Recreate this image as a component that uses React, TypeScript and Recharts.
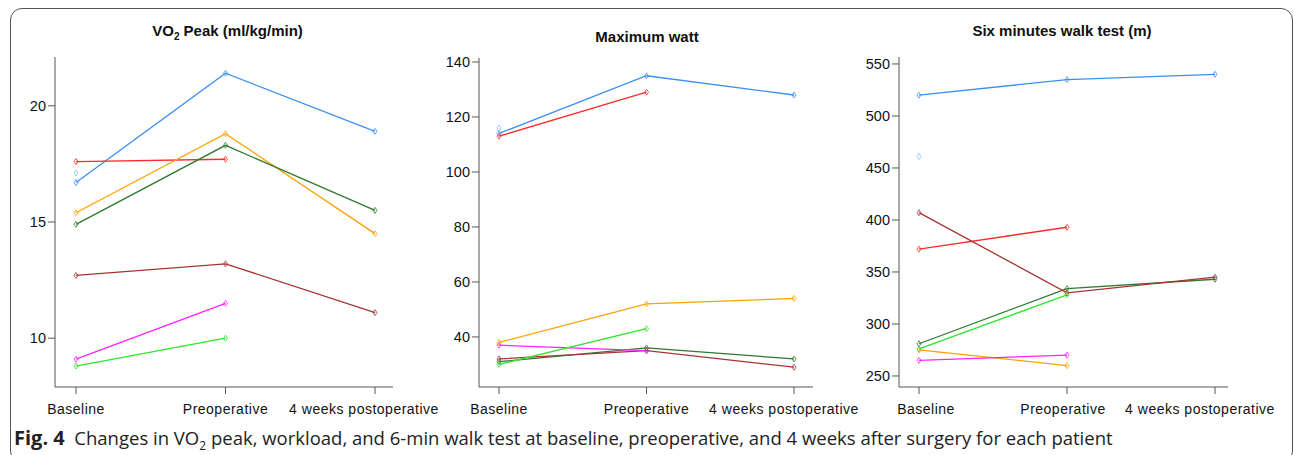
import React from 'react';
import { LineChart, Line, XAxis, YAxis } from 'recharts';

const timepoints = ['Baseline', 'Preoperative', '4 weeks postoperative'];
const patientColors = ['#3a8ff2', '#86bdf7', '#ff2b2b', '#ffa200', '#2f7a2f', '#a83232', '#ff22ff', '#2fe62f'];

// one row per patient: baseline, preoperative, 4 weeks postoperative (null = not measured)
const vo2Peak = [
  [16.7, 21.4, 18.9],
  [17.1, null, null],
  [17.6, 17.7, null],
  [15.4, 18.8, 14.5],
  [14.9, 18.3, 15.5],
  [12.7, 13.2, 11.1],
  [9.1, 11.5, null],
  [8.8, 10.0, null],
];
const vo2Ticks = [10, 15, 20];

const maxWatt = [
  [114, 135, 128],
  [116, null, null],
  [113, 129, null],
  [38, 52, 54],
  [31, 36, 32],
  [32, 35, 29],
  [37, 35, null],
  [30, 43, null],
];
const wattTicks = [40, 60, 80, 100, 120, 140];

const walkTest = [
  [520, 535, 540],
  [461, null, null],
  [372, 393, null],
  [275, 260, null],
  [281, 334, 343],
  [407, 330, 345],
  [265, 270, null],
  [276, 328, null],
];
const walkTicks = [250, 300, 350, 400, 450, 500, 550];

const FONT = '"Liberation Sans", Arial, sans-serif';
const AXIS = '#555';

const diamond = (color: string) => (props: any) => {
  const { cx, cy, value, index } = props;
  if (cx == null || cy == null || value == null) return <g key={`e-${index}`} />;
  return (
    <path
      key={`d-${index}`}
      d={`M${cx},${cy - 3}L${cx + 2},${cy}L${cx},${cy + 3}L${cx - 2},${cy}Z`}
      fill="none"
      stroke={color}
      strokeWidth={0.8}
    />
  );
};

function buildRows(values: (number | null)[][]) {
  return timepoints.map((name, t) => {
    const row: any = { name };
    values.forEach((v, i) => {
      row['p' + i] = v[t];
    });
    return row;
  });
}

interface PanelProps {
  values: (number | null)[][];
  ticks: number[];
  domain: [number, number];
  chartLeft: number;
  plotLeft: number;
  plotRight: number;
  plotTop: number;
  padding: { left: number; right: number };
  labelShift: number[];
}

function Panel({ values, ticks, domain, chartLeft, plotLeft, plotRight, plotTop, padding, labelShift }: PanelProps) {
  const height = 440;
  const plotBottom = 387;
  const rightRoom = 60;
  const width = plotRight - chartLeft + rightRoom;
  const rows = buildRows(values);

  const XTick = (props: any) => {
    const { x, y, payload, index } = props;
    return (
      <text
        x={x + labelShift[index]}
        y={y}
        dy="0.71em"
        textAnchor="middle"
        fontSize={14}
        letterSpacing={0.5}
        fontFamily={FONT}
        fill="#111"
      >
        {payload.value}
      </text>
    );
  };

  return (
    <div style={{ position: 'absolute', left: chartLeft, top: 0 }}>
      <LineChart width={width} height={height} data={rows} margin={{ top: plotTop, right: rightRoom, bottom: 0, left: 0 }}>
        <XAxis
          dataKey="name"
          padding={padding}
          height={height - plotBottom}
          interval={0}
          tickSize={7}
          tickMargin={10}
          axisLine={{ stroke: AXIS }}
          tickLine={{ stroke: AXIS }}
          tick={XTick}
        />
        <YAxis
          type="number"
          domain={domain}
          ticks={ticks}
          allowDataOverflow
          width={plotLeft - chartLeft}
          tickSize={7}
          tickMargin={2}
          axisLine={{ stroke: AXIS }}
          tickLine={{ stroke: AXIS }}
          tick={{ fontSize: 14.5, fill: '#111', fontFamily: FONT }}
        />
        {values.map((_, i) => (
          <Line
            key={i}
            dataKey={'p' + i}
            stroke={patientColors[i]}
            strokeWidth={1.3}
            dot={diamond(patientColors[i])}
            activeDot={false}
            isAnimationActive={false}
          />
        ))}
      </LineChart>
    </div>
  );
}

const titleStyle: React.CSSProperties = {
  position: 'absolute',
  width: 300,
  textAlign: 'center',
  fontFamily: FONT,
  fontWeight: 'bold',
  fontSize: 15,
  lineHeight: '18px',
  color: '#111',
};

export default function App() {
  return (
    <div style={{ position: 'absolute', left: 0, top: 0, width: 1295, height: 455, overflow: 'hidden', background: '#fff' }}>
      <div
        style={{
          position: 'absolute',
          left: 10,
          top: 8,
          width: 1283,
          height: 455,
          border: '1.5px solid #555',
          borderRadius: 12,
          boxSizing: 'border-box',
        }}
      />
      <div style={{ ...titleStyle, left: 227.5 - 150, top: 22 }}>
        VO<sub style={{ fontSize: 10 }}>2</sub> Peak (ml/kg/min)
      </div>
      <div style={{ ...titleStyle, left: 647 - 150, top: 27.5 }}>Maximum watt</div>
      <div style={{ ...titleStyle, left: 1062 - 150, top: 22 }}>Six minutes walk test (m)</div>

      <Panel
        values={vo2Peak}
        ticks={vo2Ticks}
        domain={[7.9, 22.1]}
        chartLeft={10}
        plotLeft={55}
        plotRight={393}
        plotTop={57}
        padding={{ left: 21, right: 18 }}
        labelShift={[0, 0, -11]}
      />
      <Panel
        values={maxWatt}
        ticks={wattTicks}
        domain={[21.8, 141.45]}
        chartLeft={420}
        plotLeft={479}
        plotRight={813}
        plotTop={58}
        padding={{ left: 20, right: 19 }}
        labelShift={[0, 0, -10]}
      />
      <Panel
        values={walkTest}
        ticks={walkTicks}
        domain={[239.4, 556.7]}
        chartLeft={840}
        plotLeft={899}
        plotRight={1228}
        plotTop={57}
        padding={{ left: 20, right: 13 }}
        labelShift={[7, -4, -15]}
      />

      <div
        style={{
          position: 'absolute',
          left: 14,
          top: 426,
          fontFamily: '"Open Sans", "Noto Sans", sans-serif',
          fontSize: 18.5,
          lineHeight: '24px',
          color: '#222',
          whiteSpace: 'nowrap',
        }}
      >
        <b style={{ fontSize: 20 }}>Fig. 4</b>&nbsp;&nbsp;Changes in VO<sub style={{ fontSize: 12 }}>2</sub> peak, workload,
        and 6-min walk test at baseline, preoperative, and 4 weeks after surgery for each patient
      </div>
    </div>
  );
}
